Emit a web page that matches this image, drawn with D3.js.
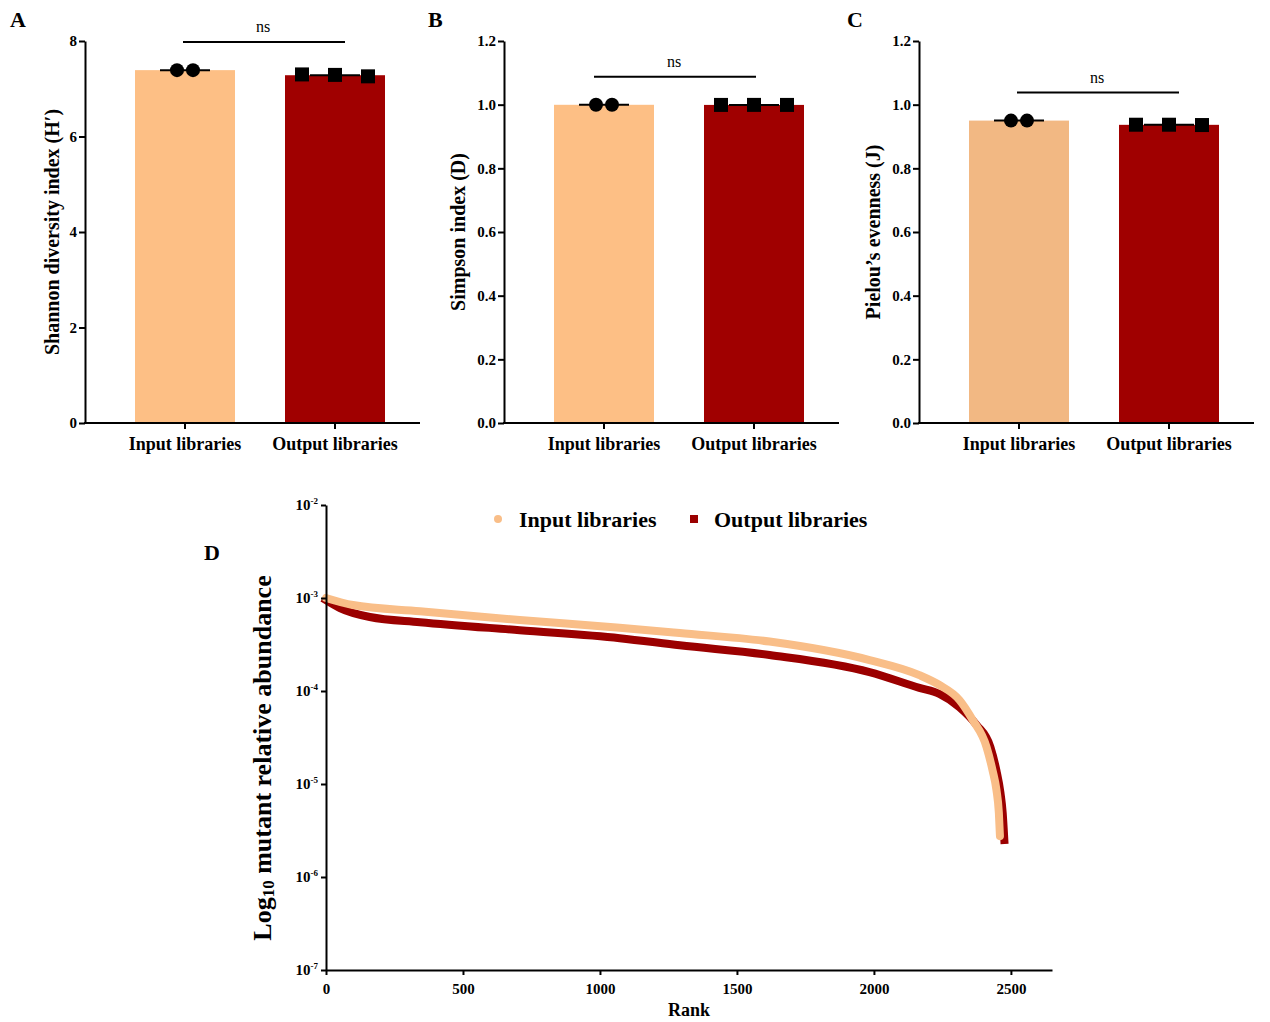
<!DOCTYPE html>
<html>
<head>
<meta charset="utf-8">
<script src="https://cdn.jsdelivr.net/npm/d3@7"></script>
<style>
  body { margin: 0; background: #fff; }
  svg text { font-family: "Liberation Serif", "Times New Roman", serif; }
</style>
</head>
<body>
<div id="chart-container"></div>
<script>
// Categories shared by the three bar panels
const barCategories = ["Input libraries", "Output libraries"];

// Per-library diversity values (points)
const shannonInput = [7.39, 7.39];
const shannonOutput = [7.30, 7.29, 7.26];
const simpsonInput = [0.9996, 0.9996];
const simpsonOutput = [0.9992, 0.9993, 0.9992];
const pielouInput = [0.950, 0.950];
const pielouOutput = [0.937, 0.937, 0.936];

// Rank-abundance curves (panel D)
const inputRank = [0, 98, 343, 707, 1072, 1291, 1619, 1984, 2166, 2239, 2312, 2360, 2411, 2433, 2447, 2456, 2460];
const inputAbundance = [1.0e-3, 8.4e-4, 7.2e-4, 5.8e-4, 4.8e-4, 4.2e-4, 3.4e-4, 2.15e-4, 1.48e-4, 1.16e-4, 8.0e-5, 4.9e-5, 2.5e-5, 1.4e-5, 8.7e-6, 4.9e-6, 2.75e-6];
const outputRank = [0, 51, 160, 343, 707, 1072, 1291, 1619, 1984, 2166, 2239, 2312, 2375, 2425, 2447, 2462, 2470, 2476];
const outputAbundance = [9.5e-4, 7.8e-4, 6.25e-4, 5.5e-4, 4.5e-4, 3.7e-4, 3.1e-4, 2.44e-4, 1.6e-4, 1.08e-4, 9.3e-5, 6.7e-5, 4.3e-5, 2.5e-5, 1.4e-5, 8.0e-6, 4.9e-6, 2.5e-6];

// Tick values
const shannonTicks = [0, 2, 4, 6, 8];
const ratioTicks = [0, 0.2, 0.4, 0.6, 0.8, 1.0, 1.2];
const rankTicks = [0, 500, 1000, 1500, 2000, 2500];
const abundanceTicks = [1e-7, 1e-6, 1e-5, 1e-4, 1e-3, 1e-2];

const svg = d3.select("#chart-container")
    .append("svg")
    .attr("width", 1270)
    .attr("height", 1022);

// Draw one bar + scatter panel
function barPanel(opts) {
    const g = svg.append("g").attr("transform", `translate(${opts.left},0)`);
    const top = 41, bottom = 423, axisLen = 335;

    const x = d3.scaleBand()
        .domain(barCategories)
        .range([50, 300])
        .paddingInner(1 / 3)
        .paddingOuter(0);

    const y = d3.scaleLinear()
        .domain(opts.domain)
        .range([bottom, top]);

    const groups = [opts.input, opts.output];

    // Bars (mean)
    g.selectAll("rect.bar")
        .data(groups)
        .join("rect")
        .attr("class", "bar")
        .attr("x", (d, i) => x(barCategories[i]))
        .attr("width", x.bandwidth())
        .attr("y", d => y(d3.mean(d)))
        .attr("height", d => bottom - y(d3.mean(d)))
        .attr("fill", (d, i) => opts.colors[i]);

    // Mean lines
    g.selectAll("line.mean")
        .data(groups)
        .join("line")
        .attr("class", "mean")
        .attr("x1", (d, i) => x(barCategories[i]) + x.bandwidth() / 2 - 25)
        .attr("x2", (d, i) => x(barCategories[i]) + x.bandwidth() / 2 + 25)
        .attr("y1", d => y(d3.mean(d)))
        .attr("y2", d => y(d3.mean(d)))
        .attr("stroke", "#000")
        .attr("stroke-width", 2);

    // Points
    groups.forEach((vals, gi) => {
        const cx = x(barCategories[gi]) + x.bandwidth() / 2;
        const spread = vals.length === 2 ? 8 : 33;
        const px = d3.scalePoint().domain(d3.range(vals.length)).range([cx - spread, cx + spread]);
        if (gi === 0) {
            g.selectAll(null).data(vals).join("circle")
                .attr("cx", (d, i) => px(i))
                .attr("cy", d => y(d))
                .attr("r", 7)
                .attr("fill", "#000");
        } else {
            g.selectAll(null).data(vals).join("rect")
                .attr("x", (d, i) => px(i) - 7)
                .attr("y", d => y(d) - 7)
                .attr("width", 14)
                .attr("height", 14)
                .attr("fill", "#000");
        }
    });

    // Y axis
    const yAxis = g.append("g")
        .call(d3.axisLeft(y).tickValues(opts.ticks).tickFormat(opts.format).tickSize(6).tickSizeOuter(0).tickPadding(2));
    yAxis.select(".domain").attr("stroke-width", 2);
    yAxis.selectAll(".tick line").attr("stroke-width", 2);
    yAxis.selectAll("text").attr("font-size", 15).attr("font-weight", "bold").attr("fill", "#000");

    // X axis
    g.append("line")
        .attr("x1", -1).attr("x2", axisLen)
        .attr("y1", bottom).attr("y2", bottom)
        .attr("stroke", "#000").attr("stroke-width", 2);
    const xAxis = g.append("g")
        .attr("transform", `translate(0,${bottom})`)
        .call(d3.axisBottom(x).tickSize(6).tickPadding(8));
    xAxis.select(".domain").remove();
    xAxis.selectAll(".tick line").attr("stroke-width", 2);
    xAxis.selectAll("text").attr("font-size", 18).attr("font-weight", "bold").attr("fill", "#000");

    // Significance bracket
    const c0 = x(barCategories[0]) + x.bandwidth() / 2 + opts.nsShift;
    const c1 = x(barCategories[1]) + x.bandwidth() / 2 + opts.nsShift;
    g.append("line")
        .attr("x1", c0 - 2).attr("x2", c1 + 10)
        .attr("y1", y(opts.nsAt)).attr("y2", y(opts.nsAt))
        .attr("stroke", "#000").attr("stroke-width", 2);
    g.append("text")
        .attr("x", (c0 + c1) / 2 + 3)
        .attr("y", y(opts.nsAt) - 10)
        .attr("text-anchor", "middle")
        .attr("font-size", 16)
        .text("ns");

    // Y label
    g.append("text")
        .attr("transform", `translate(${opts.labelX},${(top + bottom) / 2}) rotate(-90)`)
        .attr("text-anchor", "middle")
        .attr("dominant-baseline", "central")
        .attr("font-size", 20)
        .attr("font-weight", "bold")
        .text(opts.label);

    // Panel letter
    svg.append("text")
        .attr("x", opts.letterX).attr("y", 27)
        .attr("font-size", 22).attr("font-weight", "bold")
        .text(opts.letter);
}

barPanel({
    left: 85, domain: [0, 8], ticks: shannonTicks, format: d3.format("d"),
    input: shannonInput, output: shannonOutput, colors: ["#fdbf85", "#a00000"],
    nsAt: 7.98, nsShift: 0, label: "Shannon diversity index (H\u2032)", labelX: -33, letter: "A", letterX: 10
});
barPanel({
    left: 504, domain: [0, 1.2], ticks: ratioTicks, format: d3.format(".1f"),
    input: simpsonInput, output: simpsonOutput, colors: ["#fdbf85", "#a00000"],
    nsAt: 1.088, nsShift: -8, label: "Simpson index (D)", labelX: -46, letter: "B", letterX: 428
});
barPanel({
    left: 919, domain: [0, 1.2], ticks: ratioTicks, format: d3.format(".1f"),
    input: pielouInput, output: pielouOutput, colors: ["#f2b883", "#a00000"],
    nsAt: 1.038, nsShift: 0, label: "Pielou\u2019s evenness (J)", labelX: -46, letter: "C", letterX: 847
});

// Panel D: rank-abundance
const xD = d3.scaleLinear().domain([0, 2650]).range([326, 1052]);
const yD = d3.scaleLog().domain([1e-7, 1e-2]).range([970, 505]);

const inputPts = inputRank.map((r, i) => ({ rank: r, value: inputAbundance[i] }));
const outputPts = outputRank.map((r, i) => ({ rank: r, value: outputAbundance[i] }));

const rankLine = d3.line()
    .x(d => xD(d.rank))
    .y(d => yD(d.value))
    .curve(d3.curveMonotoneX);

svg.append("path")
    .datum(outputPts)
    .attr("d", rankLine)
    .attr("fill", "none")
    .attr("stroke", "#9b0000")
    .attr("stroke-width", 8)
    .attr("stroke-linecap", "square");

svg.append("path")
    .datum(inputPts)
    .attr("d", rankLine)
    .attr("fill", "none")
    .attr("stroke", "#f9be88")
    .attr("stroke-width", 8)
    .attr("stroke-linecap", "round");

const yAxisD = svg.append("g")
    .attr("transform", "translate(326,0)")
    .call(d3.axisLeft(yD).tickValues(abundanceTicks).tickSize(5).tickSizeOuter(0).tickPadding(3));
yAxisD.select(".domain").attr("stroke-width", 2);
yAxisD.selectAll(".tick line").attr("stroke-width", 2);
yAxisD.selectAll(".tick text")
    .attr("font-size", 15).attr("font-weight", "bold").attr("fill", "#000")
    .each(function (d) {
        const t = d3.select(this).text(null);
        t.append("tspan").text("10");
        t.append("tspan")
            .attr("font-size", 9)
            .attr("dy", -6)
            .text(Math.round(Math.log10(d)));
    });

const xAxisD = svg.append("g")
    .attr("transform", "translate(0,970)")
    .call(d3.axisBottom(xD).tickValues(rankTicks).tickFormat(d3.format("d")).tickSize(5).tickSizeOuter(0).tickPadding(8));
xAxisD.select(".domain").attr("stroke-width", 2);
xAxisD.selectAll(".tick line").attr("stroke-width", 2);
xAxisD.selectAll("text").attr("font-size", 15).attr("font-weight", "bold").attr("fill", "#000");

svg.append("text")
    .attr("x", 689).attr("y", 1016)
    .attr("text-anchor", "middle")
    .attr("font-size", 18).attr("font-weight", "bold")
    .text("Rank");

const yLabelD = svg.append("text")
    .attr("transform", "translate(262,758) rotate(-90)")
    .attr("text-anchor", "middle")
    .attr("dominant-baseline", "central")
    .attr("font-size", 26).attr("font-weight", "bold");
yLabelD.append("tspan").text("Log");
yLabelD.append("tspan").attr("font-size", 17).attr("dy", 6).text("10");
yLabelD.append("tspan").attr("dy", -6).text(" mutant relative abundance");

svg.append("text")
    .attr("x", 204).attr("y", 560)
    .attr("font-size", 22).attr("font-weight", "bold")
    .text("D");

// Legend
const legend = svg.append("g");
legend.append("circle").attr("cx", 498).attr("cy", 519).attr("r", 4).attr("fill", "#f9be88");
legend.append("text").attr("x", 519).attr("y", 527)
    .attr("font-size", 22).attr("font-weight", "bold").text(barCategories[0]);
legend.append("rect").attr("x", 690).attr("y", 515).attr("width", 8).attr("height", 8).attr("fill", "#9b0000");
legend.append("text").attr("x", 714).attr("y", 527)
    .attr("font-size", 22).attr("font-weight", "bold").text(barCategories[1]);
</script>
</body>
</html>
